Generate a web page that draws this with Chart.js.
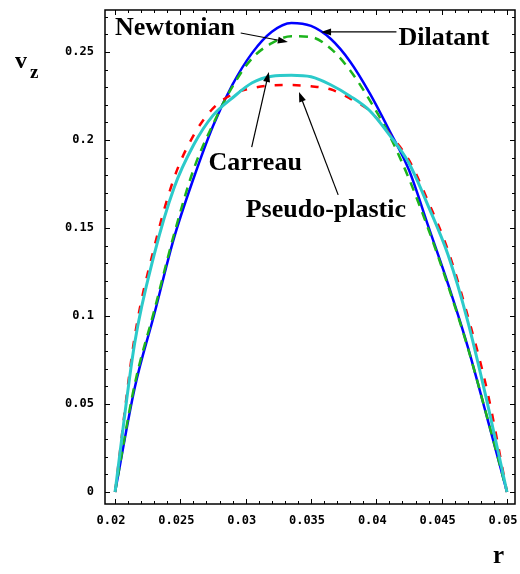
<!DOCTYPE html>
<html>
<head>
<meta charset="utf-8">
<script src="https://cdn.jsdelivr.net/npm/chart.js@4/dist/chart.umd.min.js"></script>
<style>
  html, body { margin: 0; padding: 0; background: #fff; }
</style>
</head>
<body>
<canvas id="profile" width="520" height="574"></canvas>
<script>
// radial positions (m) and velocity readings for each fluid model
const rValues = [0.02, 0.0215, 0.023, 0.0245, 0.026, 0.0275, 0.029, 0.0305, 0.032, 0.0335, 0.035,
                 0.0365, 0.038, 0.0395, 0.041, 0.0425, 0.044, 0.0455, 0.047, 0.0485, 0.05];
const dilatant = [0, 0.059, 0.101, 0.144, 0.178, 0.208, 0.2316, 0.2495, 0.2615, 0.2665, 0.2648,
                  0.2575, 0.2445, 0.2265, 0.2054, 0.1829, 0.1505, 0.118, 0.0825, 0.0417, 0];
const newtonian = [0, 0.061, 0.103, 0.146, 0.183, 0.209, 0.2305, 0.2465, 0.255, 0.259, 0.2585,
                   0.252, 0.2395, 0.2225, 0.2027, 0.178, 0.149, 0.117, 0.082, 0.042, 0];
const carreau = [0, 0.0845, 0.135, 0.1725, 0.197, 0.214, 0.224, 0.2325, 0.2362, 0.2368, 0.2359,
                 0.2314, 0.2249, 0.2166, 0.2029, 0.1868, 0.162, 0.1345, 0.097, 0.0505, 0];
const pseudoPlastic = [0, 0.088, 0.139, 0.178, 0.2025, 0.218, 0.226, 0.2295, 0.231, 0.2312, 0.2305,
                       0.2288, 0.2235, 0.2165, 0.2035, 0.1885, 0.1645, 0.137, 0.1, 0.057, 0];

const xTickValues = [0.02, 0.025, 0.03, 0.035, 0.04, 0.045, 0.05];
const xTickLabels = ['0.02', '0.025', '0.03', '0.035', '0.04', '0.045', '0.05'];
const yTickValues = [0, 0.05, 0.1, 0.15, 0.2, 0.25];
const yTickLabels = ['0', '0.05', '0.1', '0.15', '0.2', '0.25'];

// labels with arrows, in data units: text anchor, arrow tail, arrow tip
const notes = [
  { text: 'Newtonian', at: [0.0200, 0.2597], tail: [0.02962, 0.2608], tip: [0.03323, 0.2557] },
  { text: 'Dilatant', at: [0.04169, 0.2540], tail: [0.04154, 0.2614], tip: [0.03577, 0.2614] },
  { text: 'Carreau', at: [0.02715, 0.1830], tail: [0.03046, 0.1960], tip: [0.03177, 0.2386] },
  { text: 'Pseudo-plastic', at: [0.0300, 0.1563], tail: [0.03708, 0.1688], tip: [0.03408, 0.2273] }
];

function toPoints(series) {
  return rValues.map((r, i) => ({ x: r, y: series[i] }));
}

function arrow(ctx, x1, y1, x2, y2) {
  const a = Math.atan2(y2 - y1, x2 - x1);
  const len = 10, half = 3.5;
  ctx.beginPath();
  ctx.moveTo(x1, y1);
  ctx.lineTo(x2 - Math.cos(a) * len * 0.8, y2 - Math.sin(a) * len * 0.8);
  ctx.stroke();
  ctx.beginPath();
  ctx.moveTo(x2, y2);
  ctx.lineTo(x2 - Math.cos(a) * len - Math.sin(a) * half, y2 - Math.sin(a) * len + Math.cos(a) * half);
  ctx.lineTo(x2 - Math.cos(a) * len + Math.sin(a) * half, y2 - Math.sin(a) * len - Math.cos(a) * half);
  ctx.closePath();
  ctx.fill();
}

// frame with inward ticks, axis titles and arrow labels
const framePlugin = {
  id: 'frame',
  afterDraw(chart) {
    const ctx = chart.ctx;
    const area = chart.chartArea;
    const xs = chart.scales.x, ys = chart.scales.y;
    ctx.save();
    ctx.strokeStyle = '#000';
    ctx.fillStyle = '#000';
    ctx.lineWidth = 1.5;
    ctx.strokeRect(area.left, area.top, area.right - area.left, area.bottom - area.top);

    ctx.lineWidth = 1;
    for (let i = 20; i <= 50; i++) {
      const px = Math.round(xs.getPixelForValue(i / 1000)) + 0.5;
      const l = i % 5 === 0 ? 5 : 3;
      ctx.beginPath();
      ctx.moveTo(px, area.bottom); ctx.lineTo(px, area.bottom - l);
      ctx.moveTo(px, area.top); ctx.lineTo(px, area.top + l);
      ctx.stroke();
    }
    for (let i = 0; i <= 27; i++) {
      const py = Math.round(ys.getPixelForValue(i / 100)) + 0.5;
      const l = i % 5 === 0 ? 5 : 3;
      ctx.beginPath();
      ctx.moveTo(area.left, py); ctx.lineTo(area.left + l, py);
      ctx.moveTo(area.right, py); ctx.lineTo(area.right - l, py);
      ctx.stroke();
    }

    // axis titles
    ctx.textBaseline = 'alphabetic';
    ctx.textAlign = 'left';
    ctx.font = 'bold 24px "Liberation Serif"';
    ctx.fillText('v', 15, 68);
    ctx.font = 'bold 19px "Liberation Serif"';
    ctx.fillText('z', 30, 78);
    ctx.font = 'bold 25px "Liberation Serif"';
    ctx.fillText('r', 493, 563);

    // labels and arrows
    ctx.font = 'bold 26px "Liberation Serif"';
    ctx.lineWidth = 1.2;
    notes.forEach(n => {
      ctx.fillText(n.text, xs.getPixelForValue(n.at[0]), ys.getPixelForValue(n.at[1]));
      arrow(ctx,
        xs.getPixelForValue(n.tail[0]), ys.getPixelForValue(n.tail[1]),
        xs.getPixelForValue(n.tip[0]), ys.getPixelForValue(n.tip[1]));
    });
    ctx.restore();
  }
};

const tickFont = { family: '"DejaVu Sans Mono"', size: 12, weight: 'bold' };

new Chart(document.getElementById('profile').getContext('2d'), {
  type: 'line',
  data: {
    datasets: [
      { label: 'Carreau', data: toPoints(carreau), borderColor: '#2ccaca', borderWidth: 3, order: 0 },
      { label: 'Pseudo-plastic', data: toPoints(pseudoPlastic), borderColor: '#ff0000', borderWidth: 2.5, borderDash: [8, 10], order: 1 },
      { label: 'Newtonian', data: toPoints(newtonian), borderColor: '#1cb41c', borderWidth: 2.5, borderDash: [9, 7], order: 2 },
      { label: 'Dilatant', data: toPoints(dilatant), borderColor: '#0000ff', borderWidth: 2.5, order: 3 }
    ]
  },
  options: {
    responsive: false,
    animation: false,
    devicePixelRatio: 1,
    cubicInterpolationMode: 'monotone',
    elements: { point: { radius: 0 }, line: { fill: false } },
    layout: { padding: { top: 10, right: 5, left: 0, bottom: 0 } },
    plugins: { legend: { display: false }, tooltip: { enabled: false } },
    scales: {
      x: {
        type: 'linear',
        min: 0.019231,
        max: 0.050615,
        grid: { display: false, drawTicks: false },
        border: { display: false },
        afterBuildTicks: s => { s.ticks = xTickValues.map(v => ({ value: v })); },
        afterFit: s => { s.height = 70; s.paddingLeft = 0; s.paddingRight = 0; },
        ticks: {
          font: tickFont,
          color: '#000',
          padding: 10,
          labelOffset: -4,
          maxRotation: 0,
          autoSkip: false,
          callback: (v, i) => xTickLabels[i]
        }
      },
      y: {
        type: 'linear',
        min: -0.00682,
        max: 0.27386,
        grid: { display: false, drawTicks: false },
        border: { display: false },
        afterBuildTicks: s => { s.ticks = yTickValues.map(v => ({ value: v })); },
        afterFit: s => { s.width = 105; s.paddingTop = 0; s.paddingBottom = 0; },
        ticks: {
          font: tickFont,
          color: '#000',
          padding: 11,
          autoSkip: false,
          callback: (v, i) => yTickLabels[i]
        }
      }
    }
  },
  plugins: [framePlugin]
});
</script>
</body>
</html>
